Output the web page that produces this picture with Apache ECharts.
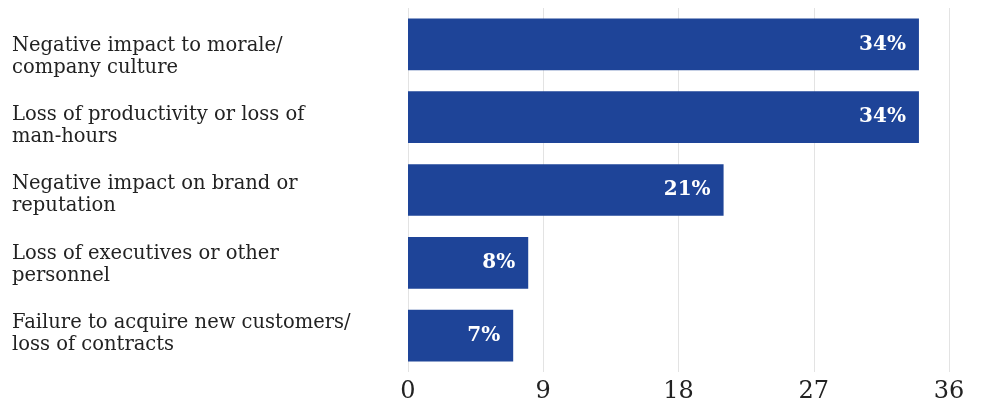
<!DOCTYPE html>
<html>
<head>
<meta charset="utf-8">
<script src="https://cdn.jsdelivr.net/npm/echarts@6/dist/echarts.min.js"></script>
<style>
  html, body { margin: 0; padding: 0; background: #fff; }
  #chart { width: 984px; height: 404px; }
</style>
</head>
<body>
<div id="chart"></div>
<script>
// Business impacts, share of respondents (%)
const categories = [
  'Negative impact to morale/\ncompany culture',
  'Loss of productivity or loss of\nman-hours',
  'Negative impact on brand or\nreputation',
  'Loss of executives or other\npersonnel',
  'Failure to acquire new customers/\nloss of contracts'
];
const values = [34, 34, 21, 8, 7];
const axisTicks = [0, 9, 18, 27, 36];

const serif = '"DejaVu Serif", "Liberation Serif", serif';

const chart = echarts.init(document.getElementById('chart'), null, { renderer: 'canvas' });
chart.setOption({
  animation: false,
  grid: [
    // plot area with the bars
    { left: 408, right: 35, top: 8, bottom: 30, containLabel: false },
    // slightly tighter band that carries the category names
    { left: 408, right: 35, top: 22.4, bottom: 35.6, containLabel: false }
  ],
  xAxis: [{
    type: 'value',
    gridIndex: 0,
    min: axisTicks[0],
    max: axisTicks[axisTicks.length - 1],
    interval: axisTicks[1] - axisTicks[0],
    axisLine: { show: false },
    axisTick: { show: false },
    splitLine: { show: true, lineStyle: { color: '#e3e3e3', width: 1 } },
    axisLabel: { color: '#222', fontFamily: serif, fontSize: 24, margin: 8 }
  }, {
    type: 'value',
    gridIndex: 1,
    show: false,
    min: axisTicks[0],
    max: axisTicks[axisTicks.length - 1]
  }],
  yAxis: [{
    type: 'category',
    gridIndex: 0,
    data: categories,
    inverse: true,
    axisLine: { show: false },
    axisTick: { show: false },
    axisLabel: { show: false }
  }, {
    type: 'category',
    gridIndex: 1,
    data: categories,
    inverse: true,
    axisLine: { show: false },
    axisTick: { show: false },
    splitLine: { show: false },
    axisLabel: {
      align: 'left',
      margin: 396,
      color: '#222',
      fontFamily: serif,
      fontSize: 19.5,
      lineHeight: 22
    }
  }],
  series: [{
    type: 'bar',
    xAxisIndex: 0,
    yAxisIndex: 0,
    data: values,
    barCategoryGap: '29%',
    itemStyle: { color: '#1e4498' },
    label: {
      show: true,
      position: 'insideRight',
      distance: 13,
      formatter: '{c}%',
      color: '#fff',
      fontFamily: serif,
      fontWeight: 'bold',
      fontSize: 20
    }
  }]
});
</script>
</body>
</html>
